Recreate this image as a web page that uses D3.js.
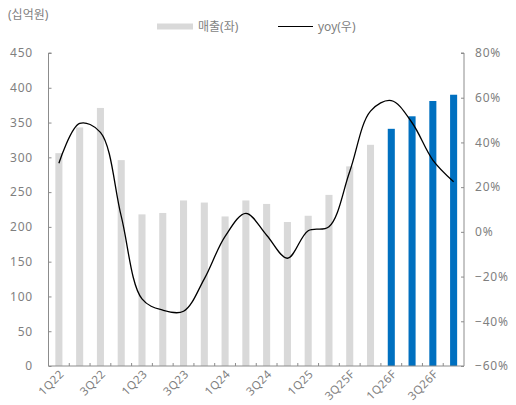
<!DOCTYPE html>
<html><head><meta charset="utf-8">
<script src="https://cdn.jsdelivr.net/npm/d3@7"></script>
<style>
body{margin:0;background:#fff;}
text{font-family:"Noto Sans","Noto Sans CJK KR",sans-serif;fill:#7f7f7f;}
</style></head>
<body><svg id="c" width="516" height="405"></svg>
<script>
const categories = ["1Q22","2Q22","3Q22","4Q22","1Q23","2Q23","3Q23","4Q23","1Q24","2Q24","3Q24","4Q24","1Q25","2Q25","3Q25F","4Q25F","1Q26F","2Q26F","3Q26F","4Q26F"];
const sales = [306,343,371,296,218,220,238,235,215,238,233,207,216,246,287,318,341,359,381,390];
const yoy = [30.7,48.5,44.5,7,-30,-35,-35.5,-21,-2,8.3,-1.5,-11.8,0.5,2.3,27,54,58.7,48.8,32.1,22.4];
const forecastHighlight = ["1Q26F","2Q26F","3Q26F","4Q26F"];
const leftTicks = [0,50,100,150,200,250,300,350,400,450];
const rightTicks = [-60,-40,-20,0,20,40,60,80];
const unitLabel = "(십억원)";
const legendSales = "매출(좌)";
const legendYoy = "yoy(우)";

const svg = d3.select("#c");
const L = 48.5, R = 464, T = 53, B = 366;
const x = d3.scaleBand().domain(categories).range([L, R]).paddingInner(0.66).paddingOuter(0.33);
const yL = d3.scaleLinear().domain([0,450]).range([B, T]);
const yR = d3.scaleLinear().domain([-60,80]).range([B, T]);
const axisColor = "#8c8c8c";

// bars
svg.append("g").selectAll("rect").data(categories).join("rect")
  .attr("x", d => x(d))
  .attr("width", x.bandwidth())
  .attr("y", (d,i) => yL(sales[i]))
  .attr("height", (d,i) => yL(0) - yL(sales[i]))
  .attr("fill", d => forecastHighlight.includes(d) ? "#0070c0" : "#d9d9d9");

// line
const line = d3.line()
  .x((d,i) => x(categories[i]) + x.bandwidth()/2)
  .y(d => yR(d))
  .curve(d3.curveCatmullRom.alpha(0.5));
svg.append("path").datum(yoy).attr("d", line)
  .attr("fill","none").attr("stroke","#000").attr("stroke-width",1.3);

// left axis
const gl = svg.append("g").attr("transform", `translate(${L},0)`)
  .call(d3.axisRight(yL).tickValues(leftTicks).tickSize(3).tickFormat(""));
gl.select(".domain").attr("stroke", axisColor).attr("d", `M3,${T}H0V${B}`);
gl.selectAll(".tick line").attr("stroke", axisColor);
svg.append("g").selectAll("text").data(leftTicks).join("text")
  .attr("x", 33).attr("y", d => yL(d)).attr("dy","0.36em")
  .attr("text-anchor","end").attr("font-size", 12).attr("letter-spacing", 0.8)
  .text(d => d);

// right axis
const gr = svg.append("g").attr("transform", `translate(${R},0)`)
  .call(d3.axisLeft(yR).tickValues(rightTicks).tickSize(3).tickFormat(""));
gr.select(".domain").attr("stroke", axisColor).attr("d", `M-3,${T}H0V${B}`);
gr.selectAll(".tick line").attr("stroke", axisColor);
svg.append("g").selectAll("text").data(rightTicks).join("text")
  .attr("x", 475).attr("y", d => yR(d)).attr("dy","0.36em")
  .attr("text-anchor","start").attr("font-size", 12).attr("letter-spacing", 0.8)
  .text(d => (d < 0 ? "\u2212" + Math.abs(d) : d) + "%");

// bottom axis
const gb = svg.append("g").attr("transform", `translate(0,${B})`)
  .call(d3.axisBottom(x).tickSize(0).tickFormat(""));
gb.select(".domain").attr("stroke", axisColor).attr("d", `M${L},0H${R}`);
// boundary ticks between categories (pointing up)
const step = x.step();
svg.append("g").selectAll("line").data(categories.slice(1)).join("line")
  .attr("x1", d => x(d) - x.padding()*step/2)
  .attr("x2", d => x(d) - x.padding()*step/2)
  .attr("y1", B).attr("y2", B - 3)
  .attr("stroke", axisColor);
svg.append("g").selectAll("text").data(categories.filter((d,i) => i % 2 === 0)).join("text")
  .attr("transform", d => `translate(${x(d) + x.bandwidth()/2 + 3},${B + 6}) rotate(-45)`)
  .attr("text-anchor","end").attr("dy","0.35em")
  .attr("font-size", 11.5).attr("letter-spacing", 0.4)
  .text(d => d);

// unit label
svg.append("text").attr("x", 8).attr("y", 19).attr("font-size", 12)
  .attr("font-family", "'Noto Sans CJK KR',sans-serif").text(unitLabel);

// legend
svg.append("rect").attr("x", 157).attr("y", 23.5).attr("width", 36).attr("height", 6).attr("fill", "#d9d9d9");
svg.append("text").attr("x", 198).attr("y", 27).attr("dy","0.35em").attr("font-size", 12)
  .attr("font-family", "'Noto Sans CJK KR',sans-serif").text(legendSales);
svg.append("line").attr("x1", 278).attr("x2", 313).attr("y1", 26.5).attr("y2", 26.5)
  .attr("stroke","#000").attr("stroke-width",1.2);
svg.append("text").attr("x", 318).attr("y", 27).attr("dy","0.35em").attr("font-size", 12)
  .attr("font-family", "'Noto Sans CJK KR',sans-serif").text(legendYoy);
</script></body></html>
